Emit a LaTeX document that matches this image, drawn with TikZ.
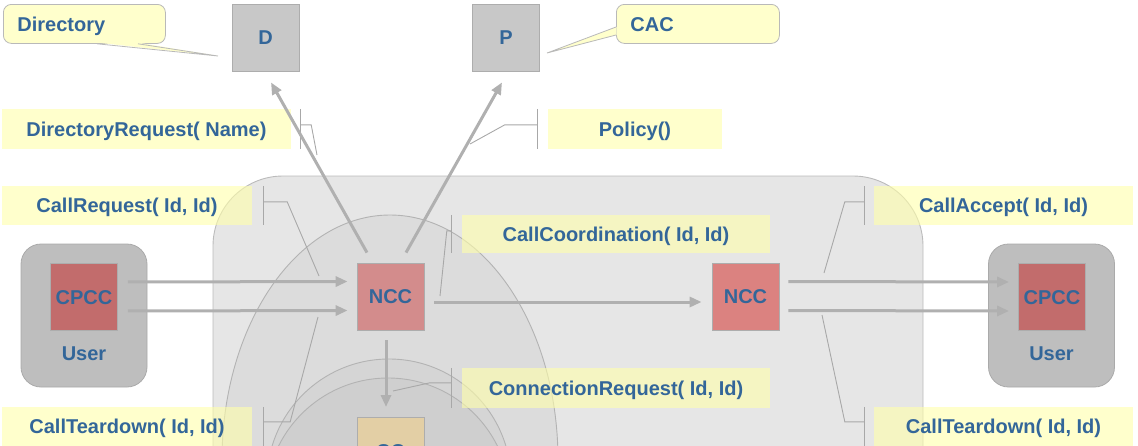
\documentclass[tikz,border=0pt]{standalone}
\usepackage{fontspec}
\setmainfont{Liberation Sans}
\usetikzlibrary{arrows.meta,calc}
\definecolor{txt}{HTML}{336699}
\definecolor{bigfill}{HTML}{E6E6E6}
\definecolor{bigline}{HTML}{BBBBBB}
\definecolor{ellfill}{HTML}{DCDCDC}
\definecolor{ellline}{HTML}{B3B3B3}
\definecolor{circA}{HTML}{D5D5D5}
\definecolor{circB}{HTML}{CFCFCF}
\definecolor{userfill}{HTML}{BEBEBE}
\definecolor{userline}{HTML}{AAAAAA}
\definecolor{cpccfill}{HTML}{C26C6C}
\definecolor{nccA}{HTML}{D38C8C}
\definecolor{nccB}{HTML}{DB8280}
\definecolor{ccfill}{HTML}{E3CFA5}
\definecolor{srvfill}{HTML}{C8C8C8}
\definecolor{boxline}{HTML}{ADADAD}
\definecolor{labfill}{HTML}{FFFFAA}
\definecolor{callfill}{HTML}{FFFFCC}
\definecolor{callline}{HTML}{B9B9B9}
\definecolor{arrgray}{HTML}{B0B0B0}
\definecolor{thin}{HTML}{A8A8A8}
\tikzset{
  lbl/.style={font=\bfseries\fontsize{20}{24}\selectfont, text=txt, text height=14.3pt, text depth=0pt},
  sq/.style={lbl, draw=boxline, line width=0.8pt, minimum width=67pt, minimum height=67pt, inner sep=0pt},
  labelbox/.style={lbl, fill=labfill, fill opacity=0.6, text opacity=1, inner sep=0pt},
  callbox/.style={lbl, fill=callfill, draw=callline, line width=0.8pt, rounded corners=8pt, minimum height=39pt, inner ysep=0pt, inner xsep=14pt, align=left},
  userbox/.style={fill=userfill, draw=userline, line width=0.8pt, rounded corners=20pt, minimum width=126pt, minimum height=143pt, inner sep=0pt},
  arr/.style={draw=arrgray, line width=3pt, -{Triangle[length=12pt,width=10pt]}},
  brk/.style={draw=thin, line width=0.9pt},
}
\begin{document}
\begin{tikzpicture}[x=1pt,y=-1pt]
\useasboundingbox (0,0) rectangle (1138,445);
\clip (0,0) rectangle (1138,445);
% background shapes
\draw[fill=bigfill, draw=bigline, line width=0.9pt, rounded corners=70pt] (213,176) rectangle (923,560);
\draw[fill=ellfill, draw=ellline, line width=0.9pt] (390,460) ellipse [x radius=168pt, y radius=245pt];
\draw[fill=circA, draw=ellline, line width=0.9pt] (389,481) circle [radius=122pt];
\draw[fill=circB, draw=ellline, line width=0.9pt] (388,500) circle [radius=122pt];
% user boxes
\node[userbox] (userboxL) at (84,315.5) {};
\node[userbox] (userboxR) at (1051.5,315.5) {};
\node[sq, fill=cpccfill] (cpccL) at (84,297) {CPCC};
\node[sq, fill=cpccfill] (cpccR) at (1052,297) {CPCC};
\node[lbl] (userL) at (84,353) {User};
\node[lbl] (userR) at (1051.5,353) {User};
% network boxes
\node[sq, fill=nccA] (nccL) at (390.5,296.5) {NCC};
\node[sq, fill=nccB] (nccR) at (745.5,296.5) {NCC};
\node[sq, fill=ccfill, anchor=north] (cc) at (390.5,417) {CC};
\node[sq, fill=srvfill] (D) at (265.5,37.5) {D};
\node[sq, fill=srvfill] (P) at (506,37.5) {P};
% callouts
\node[callbox, text width=134pt, anchor=north west] (dirc) at (3,4) {Directory};
\coordinate (dirtip) at (218,56);
\fill[callfill] (97,42.6) -- (dirtip) -- (138,42.6) -- cycle;
\draw[callline, line width=0.8pt] ($(dirc.south west)+(94,0)$) -- (dirtip) -- ($(dirc.south west)+(135,0)$);
\node[callbox, text width=135pt, anchor=north west] (cacc) at (616,4) {CAC};
\coordinate (cactip) at (547,53);
\fill[callfill] (616.6,27) -- (cactip) -- (616.6,35) -- cycle;
\draw[callline, line width=0.8pt] ($(cacc.north west)+(0,23)$) -- (cactip) -- ($(cacc.north west)+(0,31)$);
% labels
\node[labelbox, minimum width=289pt, minimum height=40pt] (lDirReq) at (146.5,129) {DirectoryRequest( Name)};
\node[labelbox, minimum width=174pt, minimum height=40pt] (lPolicy) at (635,129) {Policy()};
\node[labelbox, minimum width=250pt, minimum height=39pt] (lCallReq) at (127,205.5) {CallRequest( Id, Id)};
\node[labelbox, minimum width=250pt, minimum height=39pt] (lTearL) at (127,426.5) {CallTeardown( Id, Id)};
\node[labelbox, minimum width=308pt, minimum height=38pt] (lCoord) at (616,234) {CallCoordination( Id, Id)};
\node[labelbox, minimum width=308pt, minimum height=40pt] (lConn) at (616,388) {ConnectionRequest( Id, Id)};
\node[labelbox, minimum width=259pt, minimum height=39pt] (lAccept) at (1003.5,205.5) {CallAccept( Id, Id)};
\node[labelbox, minimum width=259pt, minimum height=39pt] (lTearR) at (1003.5,426.5) {CallTeardown( Id, Id)};
% bracket annotations
\coordinate (eDirReq) at (317,155);
\coordinate (ePolicy) at (470,144);
\coordinate (eCallReq) at (319,276);
\coordinate (eTearL) at (318,317);
\coordinate (eCoord) at (440,296);
\coordinate (eConn) at (393,391);
\coordinate (eAccept) at (824,273);
\coordinate (eTearR) at (822,315);
\draw[brk] ($(lDirReq.north east)+(9,0)$) -- ($(lDirReq.south east)+(9,0)$);
\draw[brk] ($(lDirReq.north east)+(9,16)$) -- ++(11,0) -- (eDirReq);
\draw[brk] ($(lPolicy.north west)+(-10,0)$) -- ($(lPolicy.south west)+(-10,0)$);
\draw[brk] ($(lPolicy.north west)+(-10,16)$) -- ++(-33,0) -- (ePolicy);
\draw[brk] ($(lCallReq.north east)+(11,0)$) -- ($(lCallReq.south east)+(11,0)$);
\draw[brk] ($(lCallReq.north east)+(11,16)$) -- ++(24,0) -- (eCallReq);
\draw[brk] ($(lTearL.north east)+(11,0)$) -- ($(lTearL.south east)+(11,0)$);
\draw[brk] ($(lTearL.north east)+(11,15)$) -- ++(27,0) -- (eTearL);
\draw[brk] ($(lCoord.north west)+(-10,0)$) -- ($(lCoord.south west)+(-10,0)$);
\draw[brk] ($(lCoord.north west)+(-10,16)$) -- ++(-5,0) -- (eCoord);
\draw[brk] ($(lConn.north west)+(-10,0)$) -- ($(lConn.south west)+(-10,0)$);
\draw[brk] ($(lConn.north west)+(-10,15)$) -- ++(-22,0) -- (eConn);
\draw[brk] ($(lAccept.north west)+(-9,0)$) -- ($(lAccept.south west)+(-9,0)$);
\draw[brk] ($(lAccept.north west)+(-9,16)$) -- ++(-20,0) -- (eAccept);
\draw[brk] ($(lTearR.north west)+(-9,0)$) -- ($(lTearR.south west)+(-9,0)$);
\draw[brk] ($(lTearR.north west)+(-9,15)$) -- ++(-20,0) -- (eTearR);
% arrows
\draw[arr, shorten <=10pt, shorten >=9pt] ([yshift=15pt]cpccL.east) -- ([yshift=15pt]nccL.west);
\draw[arr, shorten <=10pt, shorten >=9pt] ([yshift=-14pt]cpccL.east) -- ([yshift=-14pt]nccL.west);
\draw[arr, shorten <=10pt, shorten >=10pt] ([yshift=-5.5pt]nccL.east) -- ([yshift=-5.5pt]nccR.west);
\draw[arr, shorten <=9pt, shorten >=9pt] ([yshift=15pt]nccR.east) -- ([yshift=15pt]cpccR.west);
\draw[arr, shorten <=9pt, shorten >=9pt] ([yshift=-14pt]nccR.east) -- ([yshift=-14pt]cpccR.west);
\draw[arr] ($(nccL.north)+(-23.5,-10)$) -- ($(D.south)+(5.5,11)$);
\draw[arr] ($(nccL.north)+(15.5,-10)$) -- ($(P.south)+(-4,11)$);
\draw[arr] ($(nccL.south)+(-4.5,10)$) -- ($(cc.north)+(-4.5,-10)$);
\end{tikzpicture}
\end{document}
